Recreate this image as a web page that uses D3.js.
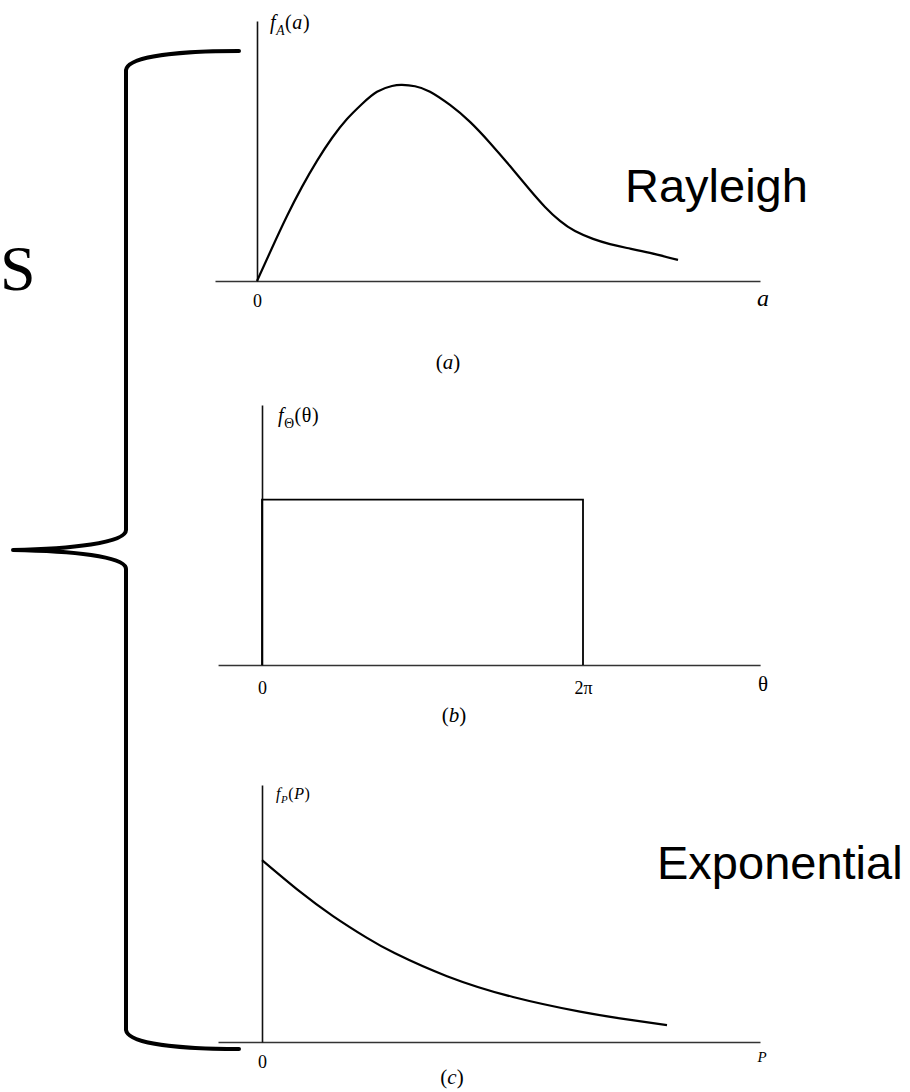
<!DOCTYPE html>
<html>
<head>
<meta charset="utf-8">
<script src="https://cdn.jsdelivr.net/npm/d3@7"></script>
<style>
  body { margin: 0; background: #fff; }
  svg { display: block; }
  text { fill: #000; }
</style>
</head>
<body>
<svg id="chart" width="910" height="1092"></svg>
<script>
// (a) Rayleigh density of the envelope amplitude a
const rayleighA = [0, 0.3, 0.6, 0.9, 1.2, 1.5, 1.8, 2.1, 2.4, 2.7, 2.9, 3.16, 3.46, 3.86,
                   4.26, 4.66, 5.06, 5.46, 5.76, 6.06, 6.36, 6.72, 7.06, 7.40, 7.86, 8.42];
const rayleighF = [0, 0.127, 0.25, 0.362, 0.462, 0.55, 0.623, 0.681, 0.728, 0.750, 0.754, 0.749, 0.728, 0.677,
                   0.612, 0.531, 0.442, 0.35, 0.285, 0.231, 0.192, 0.162, 0.142, 0.127, 0.108, 0.081];

// (b) uniform phase density on [0, 2π]
const TWO_PI = 6.2832;
const phaseTheta = [0, 0, TWO_PI, TWO_PI];
const phaseF = [0, 0.159, 0.159, 0];

// (c) exponential density of the power P
const powerP = [0, 0.76, 1.42, 2.10, 2.66, 3.70, 5.02, 6.36, 7.16, 8.10];
const powerF = [0.708, 0.585, 0.490, 0.405, 0.345, 0.256, 0.175, 0.118, 0.092, 0.066];

// axis extents (data units) and tick labels
const axisExtentA = [-0.84, 10.06];
const axisExtentB = [-0.86, 9.75];
const axisExtentC = [-0.88, 9.96];
const ticksA = [0], tickLabelsA = ["0"];
const ticksB = [0, TWO_PI], tickLabelsB = ["0", "2π"];
const ticksC = [0], tickLabelsC = ["0"];

const svg = d3.select("#chart");
const serif = "'Liberation Serif', 'Times New Roman', serif";
const sans = "'Liberation Sans', Arial, sans-serif";

function zip(xs, ys) { return xs.map((x, i) => [x, ys[i]]); }

function drawPanel(cfg) {
  const g = svg.append("g");
  const x = d3.scaleLinear().domain(cfg.xDomain).range(cfg.xRange);
  const y = d3.scaleLinear().domain(cfg.yDomain).range(cfg.yRange);

  // horizontal axis spanning the full extent
  const ax = x.copy().domain(cfg.axisExtent).range(cfg.axisExtent.map(x));
  const xAxis = d3.axisBottom(ax)
    .tickValues(cfg.ticks)
    .tickFormat((d, i) => cfg.tickLabels[i])
    .tickSize(0)
    .tickPadding(cfg.tickPad);
  const gx = g.append("g").attr("transform", `translate(0,${y(0)})`).call(xAxis);
  gx.select(".domain").attr("stroke", "#333").attr("stroke-width", 1.3);
  gx.selectAll("text").attr("font-family", serif).attr("font-size", 18).attr("fill", "#000");

  // vertical axis
  const yAxis = d3.axisLeft(y).tickValues([]).tickSizeOuter(0);
  const gy = g.append("g").attr("transform", `translate(${x(0)},0)`).call(yAxis);
  gy.select(".domain").attr("stroke", "#111").attr("stroke-width", 1.6);

  // density curve
  const line = d3.line().x(d => x(d[0])).y(d => y(d[1])).curve(cfg.curve);
  g.append("path")
    .datum(zip(cfg.xs, cfg.ys))
    .attr("d", line)
    .attr("fill", "none")
    .attr("stroke", "#000")
    .attr("stroke-width", cfg.curveWidth)
    .attr("stroke-linejoin", "miter");

  return { g, x, y };
}

// ---- panel (a) ----
drawPanel({
  xDomain: [0, 10], xRange: [257, 757],
  yDomain: [0, 1], yRange: [281, 21],
  axisExtent: axisExtentA, ticks: ticksA, tickLabels: tickLabelsA, tickPad: 13,
  xs: rayleighA, ys: rayleighF, curve: d3.curveNatural, curveWidth: 2.2
});
// ---- panel (b) ----
drawPanel({
  xDomain: [0, TWO_PI], xRange: [262, 583],
  yDomain: [0, 0.25], yRange: [665, 405],
  axisExtent: axisExtentB, ticks: ticksB, tickLabels: tickLabelsB, tickPad: 16,
  xs: phaseTheta, ys: phaseF, curve: d3.curveLinear, curveWidth: 1.8
});
// ---- panel (c) ----
drawPanel({
  xDomain: [0, 10], xRange: [262, 762],
  yDomain: [0, 1], yRange: [1042, 785],
  axisExtent: axisExtentC, ticks: ticksC, tickLabels: tickLabelsC, tickPad: 13,
  xs: powerP, ys: powerF, curve: d3.curveNatural, curveWidth: 2.2
});

// density labels at the top of each vertical axis
function fLabel(px, py, size, sub, arg, subItalic, argItalic) {
  const t = svg.append("text").attr("x", px).attr("y", py)
    .attr("font-family", serif).attr("font-size", size).attr("letter-spacing", 0.6);
  t.append("tspan").attr("font-style", "italic").text("f");
  t.append("tspan").attr("font-size", size * 0.68).attr("dy", size * 0.28)
    .attr("font-style", subItalic ? "italic" : "normal").text(sub);
  t.append("tspan").attr("dy", -size * 0.28).text("(");
  t.append("tspan").attr("font-style", argItalic ? "italic" : "normal").text(arg);
  t.append("tspan").text(")");
}
fLabel(270, 29, 20, "A", "a", true, true);
fLabel(278, 422, 20, "Θ", "θ", false, false);
fLabel(276, 799, 16, "P", "P", true, true);

// variable names at the right end of each horizontal axis
svg.append("text").attr("x", 763).attr("y", 306).attr("text-anchor", "middle")
  .attr("font-family", serif).attr("font-style", "italic").attr("font-size", 24).text("a");
svg.append("text").attr("x", 763).attr("y", 691).attr("text-anchor", "middle")
  .attr("font-family", serif).attr("font-size", 21).text("θ");
svg.append("text").attr("x", 762).attr("y", 1062).attr("text-anchor", "middle")
  .attr("font-family", serif).attr("font-style", "italic").attr("font-size", 15).text("P");

// sub-figure captions
function caption(px, py, letter) {
  const t = svg.append("text").attr("x", px).attr("y", py).attr("text-anchor", "middle")
    .attr("font-family", serif).attr("font-size", 21);
  t.append("tspan").text("(");
  t.append("tspan").attr("font-style", "italic").text(letter);
  t.append("tspan").text(")");
}
caption(448, 369, "a");
caption(454, 722, "b");
caption(452, 1084, "c");

// distribution names
svg.append("text").attr("x", 625).attr("y", 202)
  .attr("font-family", sans).attr("font-size", 47).text("Rayleigh");
svg.append("text").attr("x", 657).attr("y", 879)
  .attr("font-family", sans).attr("font-size", 47).text("Exponential");

// curly brace grouping the three densities
const brace = d3.path();
brace.moveTo(239, 51);
brace.bezierCurveTo(180, 51, 128, 56, 126, 70);
brace.lineTo(126, 530);
brace.bezierCurveTo(126, 543, 70, 549, 13, 550);
brace.bezierCurveTo(70, 551, 126, 556, 126, 569);
brace.lineTo(126, 1030);
brace.bezierCurveTo(128, 1044, 180, 1049, 239, 1049);
svg.append("path").attr("d", brace.toString())
  .attr("fill", "none").attr("stroke", "#000").attr("stroke-width", 4)
  .attr("stroke-linecap", "round").attr("stroke-linejoin", "round");

svg.append("text").attr("x", 0).attr("y", 290)
  .attr("font-family", serif).attr("font-size", 64).text("S");
</script>
</body>
</html>
